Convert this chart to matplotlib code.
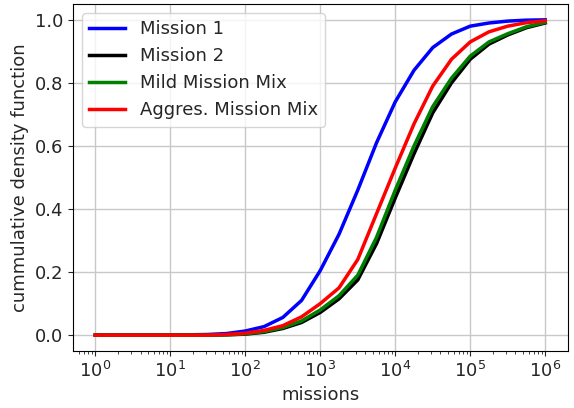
import matplotlib
matplotlib.use("Agg")
import matplotlib.pyplot as plt

# log10 of the number of missions, quarter-decade steps
log_missions = [0, 0.25, 0.5, 0.75, 1, 1.25, 1.5, 1.75, 2, 2.25, 2.5, 2.75,
                3, 3.25, 3.5, 3.75, 4, 4.25, 4.5, 4.75, 5, 5.25, 5.5, 5.75, 6]

mission_1 = [0, 0, 0, 0, 0, 0.001, 0.002, 0.005, 0.013, 0.027, 0.056, 0.11,
             0.205, 0.32, 0.46, 0.61, 0.74, 0.84, 0.912, 0.955, 0.98, 0.99,
             0.996, 0.999, 1.0]
mission_2 = [0, 0, 0, 0, 0, 0, 0, 0.001, 0.003, 0.009, 0.021, 0.04,
             0.072, 0.115, 0.175, 0.29, 0.435, 0.575, 0.705, 0.80, 0.875,
             0.923, 0.952, 0.975, 0.99]
mild_mix = [0, 0, 0, 0, 0, 0, 0, 0.001, 0.004, 0.011, 0.024, 0.045,
            0.08, 0.125, 0.19, 0.31, 0.46, 0.60, 0.725, 0.815, 0.885,
            0.93, 0.956, 0.978, 0.992]
aggres_mix = [0, 0, 0, 0, 0, 0, 0, 0.002, 0.006, 0.015, 0.03, 0.058,
              0.10, 0.15, 0.24, 0.385, 0.53, 0.67, 0.79, 0.875, 0.93,
              0.962, 0.98, 0.991, 0.997]

labels = ["Mission 1", "Mission 2", "Mild Mission Mix", "Aggres. Mission Mix"]
colors = ["blue", "black", "green", "red"]

plt.rcParams["font.size"] = 13
plt.rcParams["text.color"] = "#262626"
plt.rcParams["axes.labelcolor"] = "#262626"
plt.rcParams["xtick.color"] = "#262626"
plt.rcParams["ytick.color"] = "#262626"

missions = [10 ** v for v in log_missions]

fig = plt.figure(figsize=(5.74, 4.08), dpi=100)
ax = fig.add_axes([0.127, 0.14, 0.862, 0.85])

for series, label, color in zip([mission_1, mission_2, mild_mix, aggres_mix],
                                labels, colors):
    ax.plot(missions, series, color=color, lw=2.5, label=label)

ax.set_xscale("log")
ax.set_xticks([10 ** k for k in range(7)])
ax.set_yticks([0, 0.2, 0.4, 0.6, 0.8, 1.0])
ax.grid(True, which="major", color="#c8c8c8", lw=1)
ax.set_xlabel("missions")
ax.set_ylabel("cummulative density function")
ax.legend(loc="upper left")

fig.savefig("out.png", dpi=100)
